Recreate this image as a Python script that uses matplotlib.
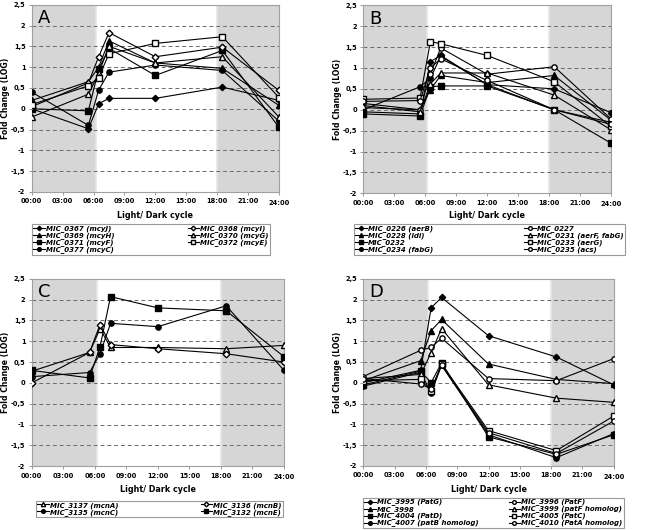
import matplotlib
matplotlib.use("Agg")
import matplotlib.pyplot as plt

# ---------------- data ----------------
times = [0, 5.5, 6.5, 7.5, 12, 18.5, 24]
tick_hours = [0, 3, 6, 9, 12, 15, 18, 21, 24]
tick_labels = ["00:00", "03:00", "06:00", "09:00", "12:00", "15:00", "18:00", "21:00", "24:00"]
y_ticks = [-2, -1.5, -1, -0.5, 0, 0.5, 1, 1.5, 2, 2.5]
y_tick_labels = ["-2", "-1,5", "-1", "-0,5", "0", "0,5", "1", "1,5", "2", "2,5"]
light_start, light_end = 6.2, 18.0

# Panel A
a_names = ["MIC_0367 (mcyJ)", "MIC_0369 (mcyH)", "MIC_0371 (mcyF)", "MIC_0377 (mcyC)",
           "MIC_0368 (mcyI)", "MIC_0370 (mcyG)", "MIC_0372 (mcyE)"]
a_0367 = [0.0, -0.48, 0.12, 0.25, 0.25, 0.52, 0.2]
a_0369 = [0.2, 0.65, 1.0, 1.63, 1.1, 0.97, 0.08]
a_0371 = [0.0, -0.05, 0.95, 1.45, 0.8, 1.4, -0.45]
a_0377 = [0.4, -0.4, 0.45, 0.88, 1.05, 0.92, -0.3]
a_0368 = [0.05, 0.62, 1.25, 1.83, 1.25, 1.48, 0.44]
a_0370 = [-0.2, 0.35, 0.85, 1.5, 1.1, 1.25, -0.2]
a_0372 = [0.1, 0.55, 0.75, 1.32, 1.57, 1.73, 0.27]
a_values = [a_0367, a_0369, a_0371, a_0377, a_0368, a_0370, a_0372]

# Panel B
b_names = ["MIC_0226 (aerB)", "MIC_0228 (idi)", "MIC_0232", "MIC_0234 (fabG)",
           "MIC_0227", "MIC_0231 (aerF, fabG)", "MIC_0233 (aerG)", "MIC_0235 (acs)"]
b_0226 = [-0.05, -0.1, 1.15, 1.3, 0.6, 0.5, -0.07]
b_0228 = [0.05, 0.0, 0.48, 0.82, 0.65, 0.82, -0.25]
b_0232 = [-0.1, -0.15, 0.55, 0.57, 0.57, 0.0, -0.8]
b_0234 = [0.0, 0.55, 0.75, 1.28, 0.6, 0.0, -0.3]
b_0227 = [0.15, 0.0, 0.85, 1.48, 0.85, 1.03, -0.22]
b_0231 = [0.1, -0.05, 0.62, 0.88, 0.88, 0.35, -0.48]
b_0233 = [0.25, 0.28, 1.63, 1.58, 1.3, 0.67, -0.4]
b_0235 = [0.2, 0.22, 1.0, 1.22, 0.7, 0.0, -0.35]
b_values = [b_0226, b_0228, b_0232, b_0234, b_0227, b_0231, b_0233, b_0235]

# Panel C
c_names = ["MIC_3137 (mcnA)", "MIC_3135 (mcnC)", "MIC_3136 (mcnB)", "MIC_3132 (mcnE)"]
c_3137 = [0.28, 0.73, 1.3, 0.85, 0.85, 0.82, 0.9]
c_3135 = [0.15, 0.25, 0.7, 1.43, 1.35, 1.85, 0.3]
c_3136 = [0.0, 0.73, 1.4, 0.92, 0.82, 0.7, 0.5]
c_3132 = [0.3, 0.12, 0.87, 2.07, 1.8, 1.73, 0.63]
c_values = [c_3137, c_3135, c_3136, c_3132]

# Panel D
d_names = ["MIC_3995 (PatG)", "MIC_3998", "MIC_4004 (PatD)", "MIC_4007 (patB homolog)",
           "MIC_3996 (PatF)", "MIC_3999 (patF homolog)", "MIC_4005 (PatC)", "MIC_4010 (PatA homolog)"]
d_3995 = [0.0, 0.3, 1.8, 2.05, 1.13, 0.62, -0.05]
d_3998 = [0.05, 0.53, 1.25, 1.52, 0.45, 0.08, -0.02]
d_4004 = [-0.05, 0.28, 0.0, 0.48, -1.3, -1.72, -1.25]
d_4007 = [-0.08, 0.25, -0.25, 0.42, -1.25, -1.8, -1.22]
d_3996 = [0.15, 0.78, 0.85, 1.07, 0.1, 0.05, 0.58]
d_3999 = [0.1, 0.2, 0.72, 1.3, -0.05, -0.37, -0.47]
d_4005 = [0.05, 0.08, -0.2, 0.45, -1.15, -1.63, -0.8]
d_4010 = [0.1, -0.03, -0.15, 0.42, -1.2, -1.7, -0.92]
d_values = [d_3995, d_3998, d_4004, d_4007, d_3996, d_3999, d_4005, d_4010]

# ---------------- styles ----------------
FILLED = dict(mfc="black", mec="black")
OPEN = dict(mfc="white", mec="black")
sty = {
    "fD": dict(marker="D", ms=3.2, **FILLED),
    "f^": dict(marker="^", ms=4.2, **FILLED),
    "fs": dict(marker="s", ms=3.8, **FILLED),
    "fo": dict(marker="o", ms=3.8, **FILLED),
    "oD": dict(marker="D", ms=3.4, **OPEN),
    "o^": dict(marker="^", ms=4.4, **OPEN),
    "os": dict(marker="s", ms=4.0, **OPEN),
    "oo": dict(marker="o", ms=3.8, **OPEN),
}
a_styles = ["fD", "f^", "fs", "fo", "oD", "o^", "os"]
b_styles = ["fD", "f^", "fs", "fo", "oo", "o^", "os", "oo"]
c_styles = ["o^", "fo", "oD", "fs"]
d_styles = ["fD", "f^", "fs", "fo", "oo", "o^", "os", "oo"]

W, H = 662, 530
fig = plt.figure(figsize=(W / 100, H / 100), dpi=100)
fig.patch.set_facecolor("white")

def frac(l, r, t, b):
    return [l / W, 1 - b / H, (r - l) / W, (b - t) / H]

panels = [
    ("A", frac(31.7, 279, 4.7, 192), a_names, a_values, a_styles,
     (32 / W, 1 - 224 / H, 238 / W), 216, 5.5),
    ("B", frac(363.3, 611, 5.3, 193.3), b_names, b_values, b_styles,
     (354 / W, 1 - 224 / H, 271 / W), 216, 337),
    ("C", frac(31.7, 284, 278.7, 466.3), c_names, c_values, c_styles,
     (36 / W, 1 - 500.5 / H, 247 / W), 489, 5.5),
    ("D", frac(363.3, 613.7, 278.7, 466), d_names, d_values, d_styles,
     (363 / W, 1 - 497.5 / H, 261 / W), 489, 337),
]

shade = "#d6d6d6"
for letter, rect, names, values, styles, legpos, xlab_y, ylab_x in panels:
    ax = fig.add_axes(rect)
    ax.set_xlim(0, 24)
    ax.set_ylim(-2, 2.5)
    ax.axvspan(0, light_start, color=shade, lw=0, zorder=0)
    ax.axvspan(light_end, 24, color=shade, lw=0, zorder=0)
    ax.axvline(light_start, color="#e6e6e6", lw=1.2, zorder=0.5)
    ax.axvline(light_end, color="#e6e6e6", lw=1.2, zorder=0.5)
    for yv in y_ticks[1:-1]:
        ax.axhline(yv, color="#6a6a6a", lw=0.7, ls=(0, (4, 3)), zorder=1)
    handles = []
    for name, vals, st in zip(names, values, styles):
        h, = ax.plot(times, vals, color="black", lw=0.8, zorder=3, label=name, **sty[st])
        handles.append(h)
    ax.set_xticks(tick_hours)
    ax.set_xticklabels(tick_labels)
    ax.set_yticks(y_ticks)
    ax.set_yticklabels(y_tick_labels)
    ax.tick_params(axis="both", length=2.5, width=0.6, color="#888888", labelsize=4.8, pad=2)
    for lab in ax.get_xticklabels() + ax.get_yticklabels():
        lab.set_fontweight("bold")
    ax.xaxis.get_major_ticks()[-1].set_pad(3.2)
    for sp in ax.spines.values():
        sp.set_color("#a0a0a0")
        sp.set_linewidth(0.8)
    cy = rect[1] + rect[3] / 2
    fig.text(ylab_x / W, cy, "Fold Change (LOG)", rotation=90, ha="center", va="center",
             fontsize=5.6, fontweight="bold")
    ax.text(0.025, 0.975, letter, transform=ax.transAxes, ha="left", va="top",
            fontsize=13, zorder=5)
    cx = rect[0] + rect[2] / 2
    fig.text(cx, 1 - xlab_y / H, "Light/ Dark cycle", ha="center", va="center",
             fontsize=5.8, fontweight="bold")
    x0, ytop, w = legpos
    leg = fig.legend(handles=handles, loc="upper left", bbox_to_anchor=(x0, ytop - 0.2, w, 0.2),
                     mode="expand", ncol=2, frameon=True, fancybox=False,
                     handlelength=1.6, handletextpad=0.2, labelspacing=0.0,
                     borderpad=0.2, borderaxespad=0, columnspacing=1.0, markerscale=0.7,
                     prop=dict(size=5, weight="bold", style="italic"))
    leg.get_frame().set_edgecolor("#808080")
    leg.get_frame().set_linewidth(0.8)

fig.savefig("out.png", dpi=100, facecolor="white")
